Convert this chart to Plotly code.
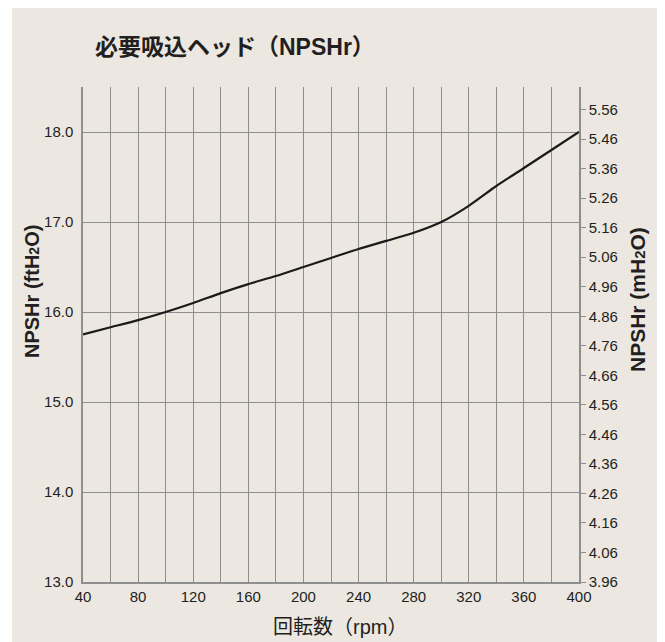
import plotly.graph_objects as go

# --- data ---
rpm = [40, 60, 80, 100, 120, 140, 160, 180, 200, 220, 240, 260, 280, 300, 320, 340, 360, 380, 400]
npshr_ft = [15.75, 15.83, 15.91, 16.00, 16.10, 16.21, 16.31, 16.40, 16.50, 16.60, 16.70, 16.79,
            16.88, 17.00, 17.18, 17.40, 17.60, 17.80, 18.00]

x_grid_vals = list(range(40, 401, 20))
x_tick_labels = [str(v) if v % 40 == 0 else "" for v in x_grid_vals]
y_left_ticks = [13.0, 14.0, 15.0, 16.0, 17.0, 18.0]
y_left_range = [13.0, 18.5]
y_right_ticks = [3.96, 4.06, 4.16, 4.26, 4.36, 4.46, 4.56, 4.66, 4.76, 4.86, 4.96,
                 5.06, 5.16, 5.26, 5.36, 5.46, 5.56]
y_right_labels = ["%.2f" % v for v in y_right_ticks]
FT_TO_M = 0.3048

title_text = "必要吸込ヘッド（NPSHr）"
x_title = "回転数（rpm）"
y_left_title = "NPSHr (ftH<span style='font-size:14px'>2</span>O)"
y_right_title = "NPSHr (mH<span style='font-size:15px'>2</span>O)"

BG = "#ECE8E1"
GRID = "#8E8E8E"
TXT = "#231F20"
FONT = "Liberation Sans, Noto Sans CJK JP, sans-serif"

# page offset of the figure inside the browser window (body margin)
OFF = 8
W, H = 657, 634
# plot-area geometry in screenshot pixels
L, R, T, B = 83 - OFF, 579 - OFF, 87 - OFF, 582 - OFF
pw, ph = R - L, B - T


def px(xs):
    return (xs - OFF - L) / pw


def py(ys):
    return (B - (ys - OFF)) / ph


fig = go.Figure()
fig.add_trace(go.Scatter(x=rpm, y=npshr_ft, mode="lines",
                         line=dict(color="#1A1A1A", width=2.2, shape="spline", smoothing=0.6),
                         hoverinfo="skip", showlegend=False))
# invisible trace to activate secondary axis
fig.add_trace(go.Scatter(x=[rpm[0]], y=[y_right_ticks[0]], yaxis="y2", mode="markers",
                         marker=dict(opacity=0), hoverinfo="skip", showlegend=False))

fig.update_layout(
    width=W, height=H,
    margin=dict(l=L, r=W - R, t=T, b=H - B, pad=0),
    paper_bgcolor="white",
    plot_bgcolor="rgba(0,0,0,0)",
    font=dict(family=FONT, size=15, color=TXT),
    showlegend=False,
    title=dict(text=title_text, x=(95 - OFF) / W, xanchor="left", y=1 - (47 - OFF) / H,
               yanchor="middle",
               font=dict(family="Liberation Sans, Noto Sans CJK JP", size=23, color=TXT,
                         weight="bold")),
    xaxis=dict(range=[40, 400], tickvals=x_grid_vals, ticktext=x_tick_labels,
               showgrid=True, gridcolor=GRID, gridwidth=1.2,
               showline=True, linecolor=GRID, linewidth=1.5,
               ticks="", zeroline=False, tickfont=dict(size=15, color=TXT)),
    yaxis=dict(range=y_left_range, tickvals=y_left_ticks, tickformat=".1f",
               showgrid=True, gridcolor=GRID, gridwidth=1.2,
               showline=True, linecolor=GRID, linewidth=1.5,
               ticks="", ticklabelstandoff=5, zeroline=False, tickfont=dict(size=15, color=TXT)),
    yaxis2=dict(overlaying="y", side="right",
                range=[y_right_ticks[0], y_right_ticks[0] + (y_left_range[1] - y_left_range[0]) * FT_TO_M],
                tickvals=y_right_ticks, ticktext=y_right_labels,
                showgrid=False, showline=True, linecolor=GRID, linewidth=1.5,
                ticks="outside", ticklen=5, tickcolor=GRID, tickwidth=1,
                zeroline=False, tickfont=dict(size=15, color=TXT)),
    shapes=[dict(type="rect", xref="paper", yref="paper", layer="below",
                 x0=px(12), x1=px(680), y0=py(660), y1=py(7),
                 fillcolor=BG, line=dict(width=0))],
    annotations=[
        dict(text=x_title, xref="paper", yref="paper", x=px(340), y=py(627),
             showarrow=False, xanchor="center", yanchor="middle",
             font=dict(size=20, color=TXT)),
        dict(text=y_left_title, xref="paper", yref="paper", x=px(32), y=py(292),
             showarrow=False, textangle=-90, xanchor="center", yanchor="middle",
             font=dict(size=20, color=TXT, weight="bold")),
        dict(text=y_right_title, xref="paper", yref="paper", x=px(637), y=py(300),
             showarrow=False, textangle=-90, xanchor="center", yanchor="middle",
             font=dict(size=21, color=TXT, weight="bold")),
    ],
)

fig.write_html("out.html")
